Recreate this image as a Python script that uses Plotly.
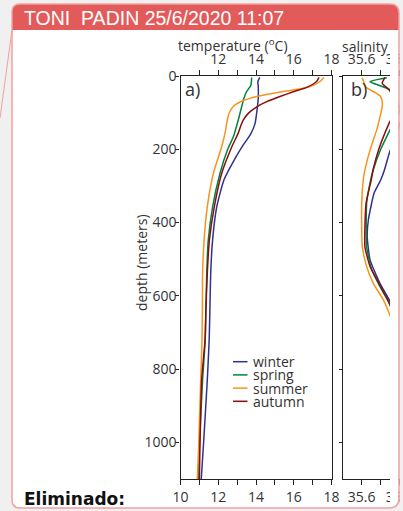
import plotly.graph_objects as go

# ---------------- data ----------------
seasons = ["winter", "spring", "summer", "autumn"]
colors = ["#2e3192", "#00843d", "#f7941d", "#8b0d0d"]

# temperature profiles (depth m, temperature ºC)
t_depth_winter = [4, 15, 30, 60, 95, 130, 160, 190, 229, 284, 357, 448, 538, 630, 720, 830, 1012, 1100]
t_winter = [14.2, 14.1, 14.12, 14.12, 14.05, 13.95, 13.7, 13.3, 12.85, 12.3, 11.92, 11.70, 11.60, 11.56, 11.52, 11.42, 11.21, 11.10]
t_depth_spring = [4, 25, 43, 61, 84, 120, 166, 200, 266, 357, 448, 538, 630, 720, 830, 1012, 1100]
t_spring = [13.77, 13.73, 13.5, 13.36, 13.24, 13.06, 12.8, 12.5, 12.09, 11.7, 11.47, 11.39, 11.35, 11.31, 11.17, 11.0, 10.97]
t_depth_summer = [4, 15, 29, 38, 47, 56, 67, 79, 88, 97, 108, 120, 156, 193, 266, 357, 448, 538, 630, 720, 830, 1012, 1100]
t_summer = [17.6, 17.39, 16.86, 15.98, 14.92, 14.04, 13.33, 12.89, 12.72, 12.62, 12.54, 12.48, 12.36, 12.18, 11.74, 11.42, 11.25, 11.17, 11.16, 11.14, 11.07, 10.96, 10.89]
t_depth_autumn = [4, 15, 31, 43, 56, 70, 84, 102, 120, 138, 156, 193, 266, 357, 448, 538, 630, 720, 830, 1012, 1100]
t_autumn = [17.34, 17.21, 16.69, 15.98, 15.27, 14.57, 14.04, 13.59, 13.33, 13.18, 13.06, 12.72, 12.18, 11.79, 11.53, 11.42, 11.35, 11.30, 11.12, 11.03, 11.0]

# salinity profiles (depth m, salinity)
s_depth_winter = [0, 100, 211, 256, 284, 320, 393, 439, 502, 566, 611, 660]
s_winter = [35.85, 35.82, 35.745, 35.72, 35.70, 35.665, 35.635, 35.629, 35.644, 35.696, 35.745, 35.79]
s_depth_spring = [4.6, 15.6, 38, 90, 147, 200, 256, 284, 347, 466, 529, 575, 620, 680]
s_spring = [35.732, 35.644, 35.749, 35.80, 35.749, 35.70, 35.661, 35.647, 35.626, 35.626, 35.653, 35.696, 35.745, 35.79]
s_depth_summer = [4.6, 30.8, 45, 56.5, 70, 83.8, 110, 147, 202, 256, 284, 347, 466, 520, 566, 611, 648, 700]
s_summer = [35.603, 35.623, 35.67, 35.700, 35.708, 35.708, 35.697, 35.679, 35.644, 35.617, 35.608, 35.600, 35.603, 35.626, 35.661, 35.714, 35.745, 35.78]
s_depth_autumn = [4, 20, 38, 80, 128, 200, 256, 284, 347, 466, 520, 570, 620, 680]
s_autumn = [35.723, 35.708, 35.745, 35.79, 35.745, 35.69, 35.66, 35.65, 35.623, 35.617, 35.644, 35.696, 35.745, 35.79]

temp_ticks_bottom = [10, 12, 14, 16, 18]
temp_ticks_top = [12, 14, 16, 18]
temp_minor = [11, 13, 15, 17]
sal_ticks = [35.6, 35.8]
sal_minor = [35.7]
depth_ticks = [0, 200, 400, 600, 800, 1000]

header_text = "TONI\u00a0 PADIN 25/6/2020 11:07"
footer_text = "<b>Eliminado:</b>"

# ---------------- layout helpers ----------------
W, H = 403, 511
def X(p):
    return p / W
def Y(p):
    return 1 - p / H

def rrect(x0, y0, x1, y1, rtl, rtr, rbr, rbl):
    def P(x, y):
        return f"{X(x):.5f},{Y(y):.5f}"
    s = f"M {P(x0 + rtl, y0)} L {P(x1 - rtr, y0)} "
    s += f"Q {P(x1, y0)} {P(x1, y0 + rtr)} " if rtr else ""
    s += f"L {P(x1, y1 - rbr)} "
    s += f"Q {P(x1, y1)} {P(x1 - rbr, y1)} " if rbr else ""
    s += f"L {P(x0 + rbl, y1)} "
    s += f"Q {P(x0, y1)} {P(x0, y1 - rbl)} " if rbl else ""
    s += f"L {P(x0, y0 + rtl)} "
    s += f"Q {P(x0, y0)} {P(x0 + rtl, y0)} " if rtl else ""
    return s + "Z"

FONT = "Open Sans"
TXT = "#333333"
AX = "#222222"

fig = go.Figure()

temp_sets = [(t_winter, t_depth_winter), (t_spring, t_depth_spring),
             (t_summer, t_depth_summer), (t_autumn, t_depth_autumn)]
sal_sets = [(s_winter, s_depth_winter), (s_spring, s_depth_spring),
            (s_summer, s_depth_summer), (s_autumn, s_depth_autumn)]

for name, col, (tx, ty) in zip(seasons, colors, temp_sets):
    fig.add_trace(go.Scatter(x=tx, y=ty, mode="lines", name=name,
                             line=dict(color=col, width=1.5, shape="spline", smoothing=0.5),
                             xaxis="x", yaxis="y", showlegend=False, hoverinfo="skip"))
for name, col, (sx, sy) in zip(seasons, colors, sal_sets):
    fig.add_trace(go.Scatter(x=sx, y=sy, mode="lines", name=name,
                             line=dict(color=col, width=1.5, shape="spline", smoothing=0.5),
                             xaxis="x2", yaxis="y2", showlegend=False, hoverinfo="skip"))
# carriers for the top axes
fig.add_trace(go.Scatter(x=[None], y=[None], xaxis="x3", yaxis="y", showlegend=False))
fig.add_trace(go.Scatter(x=[None], y=[None], xaxis="x4", yaxis="y2", showlegend=False))

common = dict(showline=True, linecolor=AX, linewidth=1.3, ticks="outside", tickcolor=AX,
              tickwidth=1.2, showgrid=False, zeroline=False, automargin=False,
              tickfont=dict(family=FONT, size=14, color=TXT), fixedrange=True)

y_dom = [Y(479), Y(76)]
a_dom = [X(180.5), X(331.5)]
b_dom = [X(342.7), X(399.7)]

fig.update_layout(
    template="none",
    width=W, height=H, margin=dict(l=0, r=0, t=0, b=0, pad=0, autoexpand=False),
    paper_bgcolor="#f0f0f0", plot_bgcolor="rgba(0,0,0,0)",
    showlegend=False,
    xaxis=dict(domain=a_dom, range=[10, 18], anchor="y", side="bottom",
               tickmode="array", tickvals=temp_ticks_bottom, ticklen=5,
               minor=dict(tickvals=temp_minor, ticks="outside", ticklen=5, tickcolor=AX), **common),
    xaxis3=dict(range=[10, 18], anchor="y", overlaying="x", side="top",
                tickmode="array", tickvals=temp_ticks_top, ticklen=5,
                minor=dict(tickvals=temp_minor, ticks="outside", ticklen=5, tickcolor=AX), **common),
    yaxis=dict(domain=y_dom, range=[1100, 0], anchor="x", mirror=True,
               tickmode="array", tickvals=depth_ticks, ticklen=4, ticklabelstandoff=-4, **common),
    xaxis2=dict(domain=b_dom, range=[35.5, 35.8], anchor="y2", side="bottom",
                tickmode="array", tickvals=sal_ticks, ticktext=[f"{v:.1f}" for v in sal_ticks],
                ticklen=5, ticklabeloverflow="allow",
                minor=dict(tickvals=sal_minor, ticks="outside", ticklen=5, tickcolor=AX), **common),
    xaxis4=dict(range=[35.5, 35.8], anchor="y2", overlaying="x2", side="top",
                tickmode="array", tickvals=sal_ticks, ticktext=[f"{v:.1f}" for v in sal_ticks],
                ticklen=5, ticklabeloverflow="allow",
                minor=dict(tickvals=sal_minor, ticks="outside", ticklen=5, tickcolor=AX), **common),
    yaxis2=dict(domain=y_dom, range=[1100, 0], anchor="x2",
                tickmode="array", tickvals=depth_ticks, ticklen=3, showticklabels=False, **common),
)

shapes = []
shapes.append(dict(type="path", xref="paper", yref="paper", layer="below",
                   path=rrect(12, 4, 399, 508, 8, 9, 10, 8),
                   fillcolor="white", line=dict(width=0)))
shapes.append(dict(type="path", xref="paper", yref="paper", layer="below",
                   path=rrect(12, 4, 399, 30, 8, 9, 0, 0),
                   fillcolor="#e35a5a", line=dict(width=0)))
shapes.append(dict(type="rect", xref="paper", yref="paper", layer="above",
                   x0=X(390), x1=X(398.6), y0=Y(505), y1=Y(33),
                   fillcolor="white", line=dict(width=0)))
shapes.append(dict(type="rect", xref="paper", yref="paper", layer="above",
                   x0=X(399.6), x1=1, y0=0, y1=1,
                   fillcolor="#f0f0f0", line=dict(width=0)))
shapes.append(dict(type="path", xref="paper", yref="paper", layer="above",
                   path=rrect(12, 4, 399, 508, 8, 9, 10, 8),
                   fillcolor="rgba(0,0,0,0)", line=dict(color="#f2a0a0", width=1.5)))
shapes.append(dict(type="line", xref="paper", yref="paper", layer="above",
                   x0=X(12), y0=Y(30), x1=X(0), y1=Y(118),
                   line=dict(color="#f2a0a0", width=1)))
leg_y = [361.7, 374.9, 388.1, 401.3]
for col, yy in zip(colors, leg_y):
    shapes.append(dict(type="line", xref="paper", yref="paper", layer="above",
                       x0=X(233), x1=X(247.5), y0=Y(yy), y1=Y(yy),
                       line=dict(color=col, width=1.5)))
fig.update_layout(shapes=shapes)

ann = []
ann.append(dict(text=header_text, x=X(22), y=Y(17.5), xanchor="left", yanchor="middle",
                font=dict(family="Liberation Sans", size=19.5, color="white")))
ann.append(dict(text=footer_text, x=X(21.5), y=Y(499), xanchor="left", yanchor="middle",
                font=dict(family="DejaVu Sans", size=17, color="#111111")))
ann.append(dict(text="temperature (<sup>o</sup>C)", x=X(233), y=Y(45), xanchor="center", yanchor="middle",
                font=dict(family=FONT, size=14, color=TXT)))
ann.append(dict(text="salinity", x=X(365), y=Y(46), xanchor="center", yanchor="middle",
                font=dict(family=FONT, size=14, color=TXT)))
ann.append(dict(text="depth (meters)", x=X(141), y=Y(263), xanchor="center", yanchor="middle",
                textangle=-90, font=dict(family=FONT, size=14, color=TXT)))
ann.append(dict(text="a)", x=X(183), y=Y(89), xanchor="left", yanchor="middle",
                font=dict(family=FONT, size=18, color=TXT)))
ann.append(dict(text="b)", x=X(349), y=Y(89), xanchor="left", yanchor="middle",
                font=dict(family=FONT, size=18, color=TXT)))
for name, yy in zip(seasons, leg_y):
    ann.append(dict(text=name, x=X(250.5), y=Y(yy), xanchor="left", yanchor="middle",
                    font=dict(family=FONT, size=14, color=TXT)))
for a in ann:
    a.update(xref="paper", yref="paper", showarrow=False)
fig.update_layout(annotations=ann)

fig.write_html("out.html", post_script="document.body.style.margin='0';document.body.style.overflow='hidden';")
